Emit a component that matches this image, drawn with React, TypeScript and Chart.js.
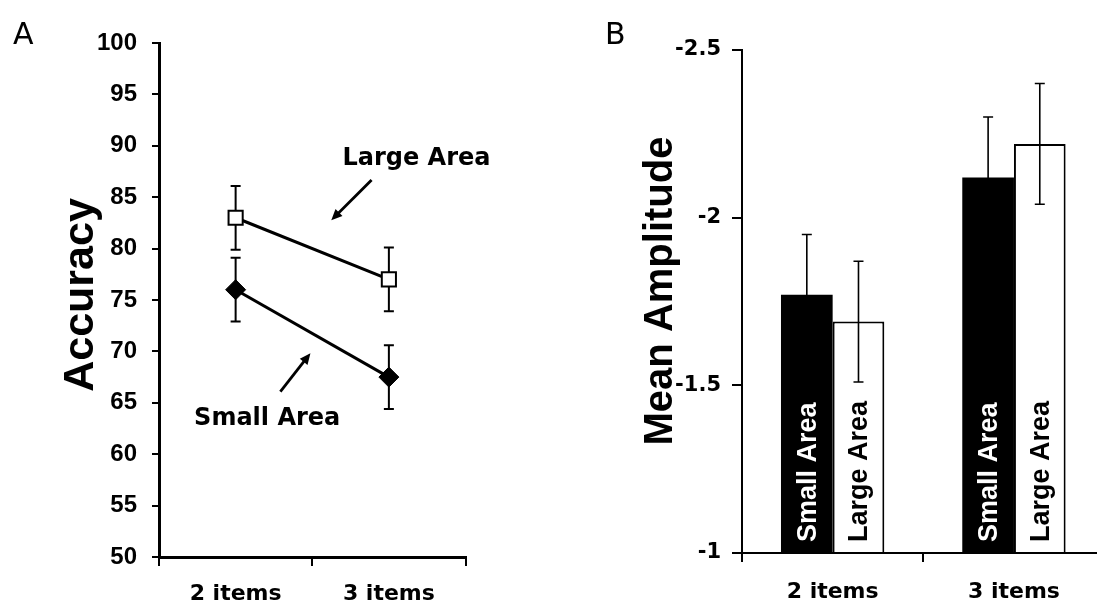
import React, { useEffect, useRef } from 'react';
import { Chart, registerables } from 'chart.js';

Chart.register(...registerables);

// ---------- data ----------
const categories = ['2 items', '3 items'];

// Panel A: accuracy (%)
const accuracyLarge = [83, 77];
const accuracyLargeErr = [3.1, 3.1];
const accuracySmall = [76, 67.5];
const accuracySmallErr = [3.1, 3.1];
const accuracyMin = 50;
const accuracyMax = 100;
const accuracyStep = 5;

// Panel B: mean amplitude
const amplitudeSmall = [-1.77, -2.12];
const amplitudeSmallErr = [0.18, 0.18];
const amplitudeLarge = [-1.69, -2.22];
const amplitudeLargeErr = [0.18, 0.18];
const amplitudeMin = -2.5;
const amplitudeMax = -1;
const amplitudeStep = 0.5;
const amplitudeBase = -1;

const seriesNames = ['Small Area', 'Large Area'];

// ---------- styling ----------
const ARIAL = "'Liberation Sans', Arial, sans-serif";
const DEJAVU = "'DejaVu Sans', sans-serif";

// annotation anchors in data units (category index, value)
const annoLargeText = { x: 1.18, y: 88.1 };
const annoSmallText = { x: 0.206, y: 62.85 };
const annoLargeArrow = { x1: 0.887, y1: 86.67, x2: 0.624, y2: 82.75 };
const annoSmallArrow = { x1: 0.292, y1: 66.08, x2: 0.488, y2: 69.82 };

function drawArrow(ctx: CanvasRenderingContext2D, x1: number, y1: number, x2: number, y2: number) {
  const ang = Math.atan2(y2 - y1, x2 - x1);
  const len = 12;
  const spread = 0.42;
  ctx.save();
  ctx.strokeStyle = '#000';
  ctx.fillStyle = '#000';
  ctx.lineWidth = 2.8;
  ctx.beginPath();
  ctx.moveTo(x1, y1);
  ctx.lineTo(x2 - Math.cos(ang) * 5, y2 - Math.sin(ang) * 5);
  ctx.stroke();
  ctx.beginPath();
  ctx.moveTo(x2, y2);
  ctx.lineTo(x2 - len * Math.cos(ang - spread), y2 - len * Math.sin(ang - spread));
  ctx.lineTo(x2 - len * Math.cos(ang + spread), y2 - len * Math.sin(ang + spread));
  ctx.closePath();
  ctx.fill();
  ctx.restore();
}

function drawErrorBars(chart: any, errs: number[][], lineWidth: number, capHalf: number) {
  const ctx = chart.ctx;
  const yScale = chart.scales.y;
  ctx.save();
  ctx.strokeStyle = '#000';
  ctx.lineWidth = lineWidth;
  chart.data.datasets.forEach((ds: any, i: number) => {
    const meta = chart.getDatasetMeta(i);
    ds.data.forEach((v: number, j: number) => {
      const el = meta.data[j];
      const x = el.x;
      const e = yScale.options.reverse ? -errs[i][j] : errs[i][j];
      const top = yScale.getPixelForValue(v + e);
      const bot = yScale.getPixelForValue(v - e);
      ctx.beginPath();
      ctx.moveTo(x, top);
      ctx.lineTo(x, bot);
      ctx.moveTo(x - capHalf, top);
      ctx.lineTo(x + capHalf, top);
      ctx.moveTo(x - capHalf, bot);
      ctx.lineTo(x + capHalf, bot);
      ctx.stroke();
    });
  });
  ctx.restore();
}

function drawRotatedTitle(ctx: CanvasRenderingContext2D, text: string, x: number, y: number, font: string) {
  ctx.save();
  ctx.translate(x, y);
  ctx.rotate(-Math.PI / 2);
  ctx.font = font;
  ctx.fillStyle = '#000';
  ctx.textAlign = 'center';
  ctx.textBaseline = 'alphabetic';
  ctx.fillText(text, 0, 0);
  ctx.restore();
}

export default function App() {
  const refA = useRef<HTMLCanvasElement | null>(null);
  const refB = useRef<HTMLCanvasElement | null>(null);

  useEffect(() => {
    if (!refA.current || !refB.current) return;

    const errorBarsA = {
      id: 'errorBarsA',
      beforeDatasetsDraw(chart: any) {
        drawErrorBars(chart, [accuracyLargeErr, accuracySmallErr], 2, 5);
      },
    };

    const annotationsA = {
      id: 'annotationsA',
      afterDraw(chart: any) {
        const ctx = chart.ctx;
        const xs = chart.scales.x;
        const ys = chart.scales.y;
        ctx.save();
        ctx.fillStyle = '#000';
        ctx.font = `30px ${DEJAVU}`;
        ctx.textAlign = 'left';
        ctx.textBaseline = 'alphabetic';
        ctx.fillText('A', 13, 44);

        ctx.font = `bold 24px ${DEJAVU}`;
        ctx.textAlign = 'center';
        ctx.fillText('Large Area', xs.getPixelForValue(annoLargeText.x), ys.getPixelForValue(annoLargeText.y));
        ctx.fillText('Small Area', xs.getPixelForValue(annoSmallText.x), ys.getPixelForValue(annoSmallText.y));
        ctx.restore();

        drawArrow(ctx,
          xs.getPixelForValue(annoLargeArrow.x1), ys.getPixelForValue(annoLargeArrow.y1),
          xs.getPixelForValue(annoLargeArrow.x2), ys.getPixelForValue(annoLargeArrow.y2));
        drawArrow(ctx,
          xs.getPixelForValue(annoSmallArrow.x1), ys.getPixelForValue(annoSmallArrow.y1),
          xs.getPixelForValue(annoSmallArrow.x2), ys.getPixelForValue(annoSmallArrow.y2));

        drawRotatedTitle(ctx, 'Accuracy', 93, 295, `bold 43px ${ARIAL}`);
      },
    };

    const chartA = new Chart(refA.current, {
      type: 'line',
      data: {
        labels: categories,
        datasets: [
          {
            label: seriesNames[1],
            data: accuracyLarge,
            borderColor: '#000',
            borderWidth: 3,
            pointStyle: 'rect',
            pointRadius: 10,
            pointBackgroundColor: '#fff',
            pointBorderColor: '#000',
            pointBorderWidth: 2,
            fill: false,
            tension: 0,
          },
          {
            label: seriesNames[0],
            data: accuracySmall,
            borderColor: '#000',
            borderWidth: 3,
            pointStyle: 'rectRot',
            pointRadius: 10,
            pointBackgroundColor: '#000',
            pointBorderColor: '#000',
            pointBorderWidth: 1,
            fill: false,
            tension: 0,
          },
        ],
      },
      options: {
        responsive: false,
        animation: false,
        devicePixelRatio: 1,
        layout: { padding: { top: 43, right: 94.5, left: 0, bottom: 0 } },
        plugins: { legend: { display: false }, tooltip: { enabled: false } },
        scales: {
          x: {
            type: 'category',
            offset: true,
            grid: { offset: true, drawOnChartArea: false, drawTicks: true, tickLength: 9, color: '#000', lineWidth: 2 },
            border: { display: true, color: '#000', width: 3 },
            ticks: { color: '#000', font: { family: DEJAVU, weight: 'bold', size: 22 }, padding: 15, maxRotation: 0 },
            afterFit: (s: any) => { s.height = 50; },
          },
          y: {
            min: accuracyMin,
            max: accuracyMax,
            ticks: { stepSize: accuracyStep, color: '#000', font: { family: ARIAL, weight: 'bold', size: 24 }, padding: 15 },
            grid: { drawOnChartArea: false, drawTicks: true, tickLength: 7, color: '#000', lineWidth: 2 },
            border: { display: true, color: '#000', width: 3 },
            afterFit: (s: any) => { s.width = 159; },
          },
        },
      } as any,
      plugins: [errorBarsA, annotationsA],
    });

    const barLabelsB = {
      id: 'barLabelsB',
      afterDatasetsDraw(chart: any) {
        const ctx = chart.ctx;
        chart.data.datasets.forEach((ds: any, i: number) => {
          const meta = chart.getDatasetMeta(i);
          meta.data.forEach((el: any) => {
            ctx.save();
            ctx.translate(el.x + 9, el.base - 10);
            ctx.rotate(-Math.PI / 2);
            ctx.font = `bold 27px ${ARIAL}`;
            ctx.fillStyle = i === 0 ? '#fff' : '#000';
            ctx.textAlign = 'left';
            ctx.textBaseline = 'alphabetic';
            ctx.fillText(ds.label, 0, 0);
            ctx.restore();
          });
        });
        drawErrorBars(chart, [amplitudeSmallErr, amplitudeLargeErr], 1.6, 5);
      },
      afterDraw(chart: any) {
        const ctx = chart.ctx;
        ctx.save();
        ctx.fillStyle = '#000';
        ctx.font = `30px ${DEJAVU}`;
        ctx.textAlign = 'left';
        ctx.textBaseline = 'alphabetic';
        ctx.fillText('B', 45, 44);
        ctx.restore();
        drawRotatedTitle(ctx, 'Mean Amplitude', 112, 291, `bold 40px ${ARIAL}`);
      },
    };

    const chartB = new Chart(refB.current, {
      type: 'bar',
      data: {
        labels: categories,
        datasets: [
          {
            label: seriesNames[0],
            data: amplitudeSmall,
            base: amplitudeBase,
            backgroundColor: '#000',
            borderColor: '#000',
            borderWidth: 0,
            categoryPercentage: 0.57,
            barPercentage: 1,
          },
          {
            label: seriesNames[1],
            data: amplitudeLarge,
            base: amplitudeBase,
            backgroundColor: '#fff',
            borderColor: '#000',
            borderWidth: 2,
            categoryPercentage: 0.57,
            barPercentage: 1,
          },
        ],
      },
      options: {
        responsive: false,
        animation: false,
        devicePixelRatio: 1,
        layout: { padding: { top: 50, right: 15.4, left: 0, bottom: 0 } },
        plugins: { legend: { display: false }, tooltip: { enabled: false } },
        scales: {
          x: {
            type: 'category',
            offset: true,
            grid: { offset: true, drawOnChartArea: false, drawTicks: true, tickLength: 9, color: '#000', lineWidth: 2 },
            border: { display: true, color: '#000', width: 2 },
            ticks: { color: '#000', font: { family: DEJAVU, weight: 'bold', size: 22 }, padding: 17, maxRotation: 0 },
            afterFit: (s: any) => { s.height = 54; },
          },
          y: {
            min: amplitudeMin,
            max: amplitudeMax,
            reverse: true,
            ticks: {
              stepSize: amplitudeStep,
              color: '#000',
              font: { family: DEJAVU, weight: 'bold', size: 21 },
              padding: 11,
              callback: (v: any) => String(Number(v)),
            },
            grid: { drawOnChartArea: false, drawTicks: true, tickLength: 10, color: '#000', lineWidth: 2 },
            border: { display: true, color: '#000', width: 2 },
            afterFit: (s: any) => { s.width = 182; },
          },
        },
      } as any,
      plugins: [barLabelsB],
    });

    return () => {
      chartA.destroy();
      chartB.destroy();
    };
  }, []);

  return (
    <div
      style={{
        position: 'absolute',
        left: 0,
        top: 0,
        width: 1097,
        height: 607,
        overflow: 'hidden',
        background: '#fff',
      }}
    >
      <canvas ref={refA} width={560} height={607} style={{ position: 'absolute', left: 0, top: 0 }} />
      <canvas ref={refB} width={560} height={607} style={{ position: 'absolute', left: 560, top: 0 }} />
    </div>
  );
}
